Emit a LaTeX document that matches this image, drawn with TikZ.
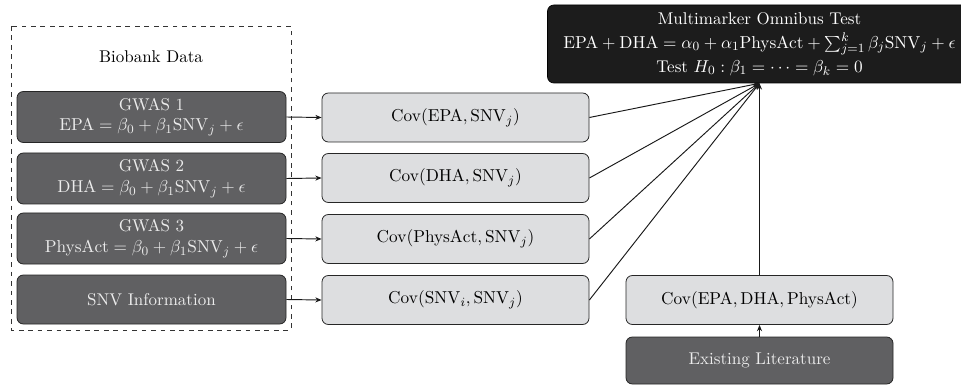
\documentclass[tikz,border=0pt]{standalone}
\usetikzlibrary{arrows.meta}
\definecolor{darkbox}{RGB}{96,96,98}
\definecolor{lightbox}{RGB}{221,222,224}
\definecolor{blackbox}{RGB}{28,28,28}
\definecolor{darktext}{RGB}{236,236,236}
\tikzset{
  every node/.style={font=\fontsize{10.8}{13.2}\selectfont},
  darkstyle/.style={draw=black!85, fill=darkbox, rounded corners=4pt, text=darktext, align=center, minimum width=269*0.635pt, minimum height=51*0.635pt, inner sep=0pt, line width=0.5pt},
  lightstyle/.style={draw=black!85, fill=lightbox, rounded corners=4pt, text=black, align=center, minimum width=267*0.635pt, minimum height=49*0.635pt, inner sep=0pt, line width=0.5pt},
  blackstyle/.style={draw=black, fill=blackbox, rounded corners=4pt, text=white, align=center, minimum width=424*0.635pt, minimum height=78*0.635pt, inner sep=0pt, font=\fontsize{10.8}{15.2}\selectfont},
  conn/.style={-{Stealth[length=4pt,width=3.2pt]}, line width=0.6pt, black!90},
}
\begin{document}
\begin{tikzpicture}[x=0.635pt,y=-0.635pt]
\useasboundingbox (0,0) rectangle (961,386);
\clip (0,0) rectangle (961,386);
\draw[dashed, line width=0.5pt, black!80] (11,26) rectangle (291,330);
\node (bio) at (151,57) {Biobank Data};
\node[darkstyle] (g1) at (151.5,117) {GWAS 1\\$\mathrm{EPA}=\beta_0+\beta_1\mathrm{SNV}_j+\epsilon$};
\node[darkstyle] (g2) at (151.5,178.5) {GWAS 2\\$\mathrm{DHA}=\beta_0+\beta_1\mathrm{SNV}_j+\epsilon$};
\node[darkstyle] (g3) at (151.5,238.5) {GWAS 3\\$\mathrm{PhysAct}=\beta_0+\beta_1\mathrm{SNV}_j+\epsilon$};
\node[darkstyle, minimum height=49*0.635pt] (snv) at (151.5,299.5) {SNV Information};
\node[lightstyle] (c1) at (455.5,117.5) {$\mathrm{Cov}(\mathrm{EPA},\mathrm{SNV}_j)$};
\node[lightstyle] (c2) at (455.5,178) {$\mathrm{Cov}(\mathrm{DHA},\mathrm{SNV}_j)$};
\node[lightstyle] (c3) at (455.5,239) {$\mathrm{Cov}(\mathrm{PhysAct},\mathrm{SNV}_j)$};
\node[lightstyle] (c4) at (455.5,300) {$\mathrm{Cov}(\mathrm{SNV}_i,\mathrm{SNV}_j)$};
\node[lightstyle] (c5) at (759.5,300) {$\mathrm{Cov}(\mathrm{EPA},\mathrm{DHA},\mathrm{PhysAct})$};
\node[darkstyle, minimum width=267*0.635pt, minimum height=47*0.635pt] (lit) at (759.5,360.5) {Existing Literature};
\node[blackstyle] (mm) at (759.5,44) {Multimarker Omnibus Test\\$\mathrm{EPA}+\mathrm{DHA}=\alpha_0+\alpha_1\mathrm{PhysAct}+\sum_{j=1}^{k}\beta_j\mathrm{SNV}_j+\epsilon$\\Test $H_0:\beta_1=\cdots=\beta_k=0$};
\draw[conn] (g1.east) -- (c1.west);
\draw[conn] (g2.east) -- (c2.west);
\draw[conn] (g3.east) -- (c3.west);
\draw[conn] (snv.east) -- (c4.west);
\draw[conn] (c1.east) -- (mm.south);
\draw[conn] (c2.east) -- (mm.south);
\draw[conn] (c3.east) -- (mm.south);
\draw[conn] (c4.east) -- (mm.south);
\draw[conn] (c5.north) -- (mm.south);
\draw[conn] (lit.north) -- (c5.south);
\end{tikzpicture}
\end{document}
